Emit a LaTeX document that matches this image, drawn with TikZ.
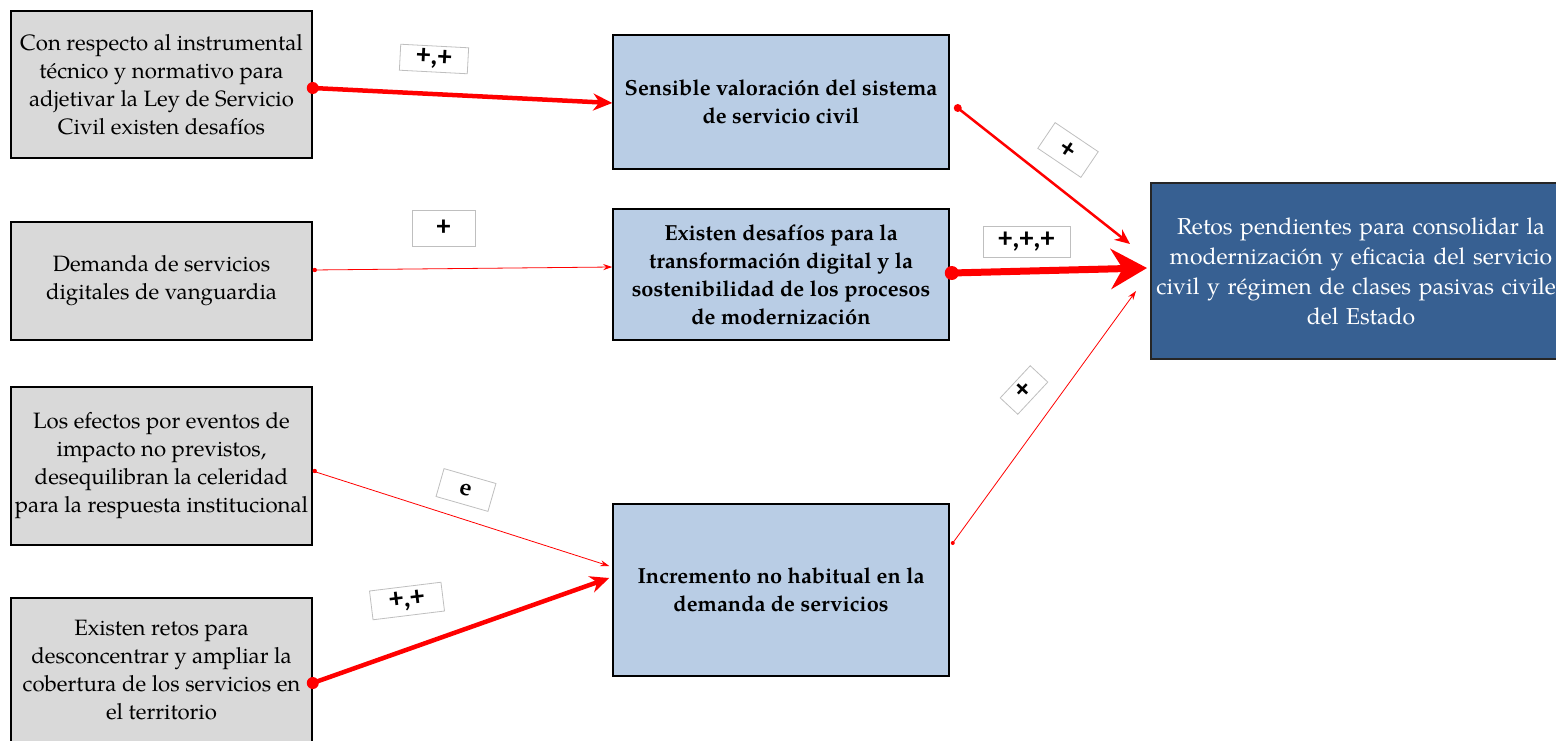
\documentclass[tikz,border=0pt]{standalone}
\usepackage{fontspec}
\setmainfont{texgyrepagella}[Extension=.otf, UprightFont=*-regular, BoldFont=*-bold]
\newfontfamily\tagfont{Carlito}
\usetikzlibrary{arrows.meta}

\definecolor{boxgray}{HTML}{D9D9D9}
\definecolor{boxblue}{HTML}{B9CDE5}
\definecolor{boxnavy}{HTML}{376092}
\definecolor{taggray}{HTML}{BFBFBF}

\tikzset{
  cause/.style={draw=black, line width=1.5pt, fill=boxgray, align=center,
    inner sep=0pt, font=\fontsize{22.2}{28}\selectfont},
  effect/.style={draw=black, line width=1.5pt, fill=boxblue, align=center,
    inner sep=0pt, font=\fontsize{21.8}{28}\selectfont\bfseries},
  goal/.style={draw=black!85, line width=2pt, fill=boxnavy, align=center,
    inner sep=0pt, text=white, font=\fontsize{23}{30}\selectfont},
  tag/.style={draw=taggray, line width=0.8pt, fill=white, inner sep=0pt,
    font=\tagfont\fontsize{28}{28}\selectfont\bfseries},
  link/.style={draw=red, line cap=butt},
  dot/.style={fill=red}
}

\begin{document}
\begin{tikzpicture}[x=1pt,y=-1pt]
\useasboundingbox (0,0) rectangle (1556,741);
\clip (0,0) rectangle (1556,741);

% causes (left column)
\node[cause, minimum width=301pt, minimum height=147pt] (L1) at (161.5,84.5)
  {Con respecto al instrumental\\técnico y normativo para\\adjetivar la Ley de Servicio\\Civil existen desafíos};
\node[cause, minimum width=301pt, minimum height=118pt] (L2) at (161.5,281)
  {Demanda de servicios\\digitales de vanguardia};
\node[cause, minimum width=301pt, minimum height=158pt] (L3) at (161.5,466)
  {Los efectos por eventos de\\impacto no previstos,\\desequilibran la celeridad\\para la respuesta institucional};
\node[cause, minimum width=301pt, minimum height=145pt] (L4) at (161.5,670.5)
  {Existen retos para\\desconcentrar y ampliar la\\cobertura de los servicios en\\el territorio};

% intermediate effects (middle column)
\node[effect, minimum width=336pt, minimum height=134pt] (M1) at (781,102)
  {Sensible valoración del sistema\\de servicio civil};
\node[effect, minimum width=336pt, minimum height=131pt] (M2) at (781,274.5)
  {Existen desafíos para la\\transformación digital y la\\sostenibilidad de los procesos\\de modernización};
\node[effect, minimum width=336pt, minimum height=172pt] (M3) at (781,590)
  {Incremento no habitual en la\\demanda de servicios};

% final outcome (right)
\node[goal, minimum width=420pt, minimum height=176pt, text width=400pt] (R) at (1361,271)
  {Retos pendientes para consolidar la\\modernización y eficacia del servicio\\\makebox[400pt][c]{civil y régimen de clases pasivas civiles}\\del Estado};

% connectors
\draw[link, line width=4.5pt, -{Stealth[length=19pt,width=17pt]}]
  ([yshift=-3.5pt]L1.east) -- ([yshift=-1pt]M1.west);
\fill[dot] ([yshift=-3.5pt]L1.east) circle (6pt);

\draw[link, line width=0.8pt, -{Stealth[length=9pt,width=6pt]}]
  ([yshift=11pt]L2.east) -- ([yshift=7.5pt]M2.west);
\fill[dot] ([yshift=11pt,xshift=2pt]L2.east) circle (2.2pt);

\draw[link, line width=0.8pt, -{Stealth[length=9pt,width=6pt]}]
  ([yshift=-5pt]L3.east) -- ([yshift=24pt,xshift=-3pt]M3.west);
\fill[dot] ([yshift=-5pt,xshift=2pt]L3.east) circle (2.2pt);

\draw[link, line width=4.5pt, -{Stealth[length=19pt,width=17pt]}]
  ([yshift=-12.5pt]L4.east) -- ([yshift=12pt,xshift=-3pt]M3.west);
\fill[dot] ([yshift=-12.5pt]L4.east) circle (6pt);

\draw[link, line width=2.5pt, -{Stealth[length=15pt,width=13pt]}]
  ([yshift=-6pt,xshift=8pt]M1.east) -- ([yshift=27pt,xshift=-20pt]R.west);
\fill[dot] ([yshift=-6pt,xshift=8pt]M1.east) circle (4pt);

\draw[link, line width=7pt, -{Stealth[length=36pt,width=40pt]}]
  ([xshift=2pt,yshift=1.5pt]M2.east) -- ([yshift=3pt,xshift=-3pt]R.west);
\fill[dot] ([xshift=2pt,yshift=1.5pt]M2.east) circle (7pt);

\draw[link, line width=0.8pt, -{Stealth[length=9pt,width=6pt]}]
  ([yshift=47pt,xshift=3pt]M3.east) -- ([yshift=-20pt,xshift=-14pt]R.west);
\fill[dot] ([yshift=47pt,xshift=3pt]M3.east) circle (2pt);

% polarity tags
\node[tag, rotate=-3, minimum width=68pt, minimum height=26pt] (t1) at (434,59) {+,+};
\node[tag, minimum width=63pt, minimum height=36pt] (t2) at (443.5,228) {+};
\node[tag, rotate=-16, minimum width=54pt, minimum height=29pt,
  font=\fontsize{24}{24}\selectfont\bfseries] (t3) at (466,490) {e};
\node[tag, rotate=7, minimum width=72pt, minimum height=29pt] (t4) at (407,601) {+,+};
\node[tag, rotate=-34, minimum width=52pt, minimum height=31pt] (t5) at (1068,150) {+};
\node[tag, minimum width=87pt, minimum height=31pt] (t6) at (1026.5,241.5) {+,+,+};
\node[tag, rotate=47, minimum width=44pt, minimum height=24pt] (t7) at (1024,390) {+};
\end{tikzpicture}
\end{document}
